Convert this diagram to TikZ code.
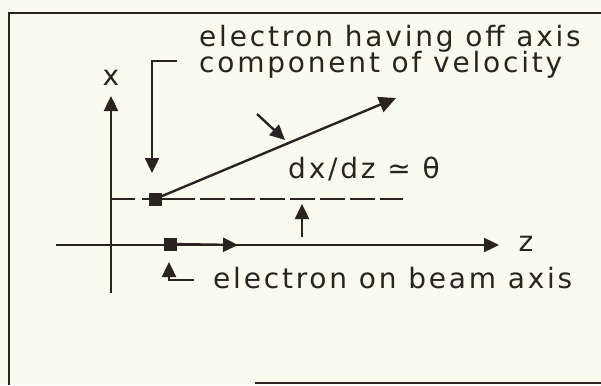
\documentclass[tikz,border=0pt]{standalone}
\usepackage{fontspec}
\setmainfont{DejaVu Sans}[LetterSpace=10]
\usetikzlibrary{arrows.meta}
\definecolor{ink}{HTML}{2B2222}
\definecolor{paper}{HTML}{FAFBEF}
\tikzset{
  ln/.style={draw=ink, line width=2.4pt},
  tip/.style={-{Triangle[length=15pt,width=14pt]}},
  bigtip/.style={-{Triangle[length=17pt,width=16pt]}},
  dot/.style={rectangle, fill=ink, minimum size=13pt, inner sep=0pt},
  lbl/.style={text=ink, inner sep=0pt, font=\fontsize{28}{32}\selectfont},
  frame/.style={draw=ink, line width=2.8pt}
}
\begin{document}
\begin{tikzpicture}[x=1pt,y=-1pt]
\fill[paper] (0,0) rectangle (601,385);
\useasboundingbox (0,0) rectangle (601,385);
% frame
\coordinate (fbl) at (9,385);
\coordinate (ftl) at (9,13);
\coordinate (ftr) at (601,13);
\coordinate (fb1) at (255,383);
\coordinate (fb2) at (601,383);
\draw[frame] (fbl) -- (ftl) -- (ftr);
\draw[frame] (fb1) -- (fb2);
% axes
\coordinate (xtip) at (111,96);
\coordinate (xbot) at (111,293);
\coordinate (zleft) at (56,245);
\coordinate (ztip) at (499,245);
\coordinate (zmid) at (238,245);
\draw[ln,tip] (xbot) -- (xtip);
\draw[ln,tip] (zleft) -- (ztip);
\node[lbl] (xl) at (111,78) {x};
\node[lbl] (zl) at (526,244) {z};
% beam-axis electron
\node[dot] (e2) at (170,244) {};
\draw[ln,tip] (e2) -- (zmid);
% dashed line
\coordinate (d0) at (111,199);
\coordinate (d1) at (135,199);
\coordinate (d2) at (142,199);
\coordinate (d3) at (170,199);
\coordinate (d4) at (403,199);
\draw[ln] (d0) -- (d1);
\draw[ln] (d2) -- (d3);
\draw[ln, dash pattern=on 25pt off 5pt] (d3) -- (d4);
\node[dot] (e1) at (155,199) {};
% trajectory
\coordinate (trtip) at (396,98);
\draw[ln,bigtip] (e1.center) -- (trtip);
\coordinate (c1) at (257,114);
\coordinate (c2) at (285,140);
\draw[ln,tip] (c1) -- (c2);
% bracket arrow to off-axis electron
\coordinate (b0) at (177,61);
\coordinate (b1) at (152,61);
\coordinate (b2) at (152,173);
\draw[ln,tip] (b0) -- (b1) -- (b2);
% up arrow
\coordinate (u0) at (302,237);
\coordinate (u1) at (302,204);
\draw[ln,tip] (u0) -- (u1);
% hook arrow
\coordinate (h0) at (194,280);
\coordinate (h1) at (169,280);
\coordinate (h2) at (169,262);
\draw[ln,tip] (h0) -- (h1) -- (h2);
% texts
\node[lbl, anchor=base west] (t1) at (199,47) {electron having off axis};
\node[lbl, anchor=base west] (t2) at (199,73) {component of velocity};
\node[lbl, anchor=base west] (t3) at (288,178) {dx/dz ≃ θ};
\node[lbl, anchor=base west] (t4) at (213,288) {electron on beam axis};
\end{tikzpicture}
\end{document}
